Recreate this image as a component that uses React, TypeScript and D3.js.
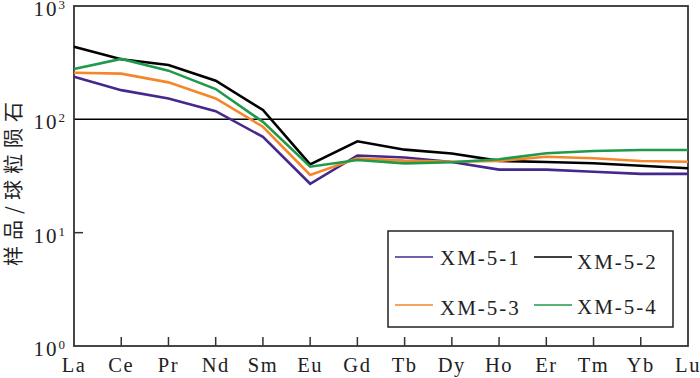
import { useEffect, useRef } from "react";
import * as d3 from "d3";

const elements = ["La", "Ce", "Pr", "Nd", "Sm", "Eu", "Gd", "Tb", "Dy", "Ho", "Er", "Tm", "Yb", "Lu"];
const xm51 = [238, 181, 153, 118, 70, 27, 48, 46, 42, 36, 36, 34.5, 33, 33];
const xm52 = [437, 339, 302, 219, 121, 40, 64, 54, 50, 43, 42, 41, 39, 37];
const xm53 = [258, 253, 212, 153, 86, 32.3, 45.3, 43.2, 42.3, 42.9, 46.8, 45.3, 42.9, 42.3];
const xm54 = [278, 341, 269, 185, 95, 38.2, 43.8, 40.9, 41.8, 44.4, 50.2, 52.6, 53.6, 53.6];
const seriesNames = ["XM-5-1", "XM-5-2", "XM-5-3", "XM-5-4"];
const seriesColors = ["#45288c", "#000000", "#f5862a", "#1f9a4a"];
const yTicks = [1, 10, 100, 1000];

const App = () => {
  const ref = useRef<SVGSVGElement>(null);

  useEffect(() => {
    const width = 700,
      height = 378,
      margin = { top: 6, right: 12, bottom: 32, left: 74 };
    const w = width - margin.left - margin.right;
    const h = height - margin.top - margin.bottom;

    const svg = d3.select(ref.current);
    svg.selectAll("*").remove();

    const g = svg.append("g").attr("transform", `translate(${margin.left},${margin.top})`);

    const x = d3.scalePoint<string>().domain(elements).range([0, w]);
    const y = d3.scaleLog().domain([1, 1000]).range([h, 0]);

    // 100 reference line
    g.append("line")
      .attr("x1", 0)
      .attr("x2", w)
      .attr("y1", y(100))
      .attr("y2", y(100))
      .attr("stroke", "#000")
      .attr("stroke-width", 1.5);

    // frame
    g.append("rect")
      .attr("x", 0)
      .attr("y", 0)
      .attr("width", w)
      .attr("height", h)
      .attr("fill", "none")
      .attr("stroke", "#333")
      .attr("stroke-width", 1.8);

    // x ticks (inward)
    g.selectAll(".xt")
      .data(elements.slice(1, -1))
      .enter()
      .append("line")
      .attr("x1", (d) => x(d)!)
      .attr("x2", (d) => x(d)!)
      .attr("y1", h)
      .attr("y2", h - 9)
      .attr("stroke", "#333")
      .attr("stroke-width", 1.5);

    g.selectAll(".xl")
      .data(elements)
      .enter()
      .append("text")
      .attr("x", (d) => x(d)!)
      .attr("y", h + 26)
      .attr("text-anchor", "middle")
      .attr("font-family", "Liberation Serif, serif")
      .attr("font-size", 20.5)
      .attr("letter-spacing", 1.5)
      .attr("fill", "#222")
      .text((d) => d);

    // y ticks
    g.append("line")
      .attr("x1", 0)
      .attr("x2", 9)
      .attr("y1", y(10))
      .attr("y2", y(10))
      .attr("stroke", "#333")
      .attr("stroke-width", 1.5);

    const yl = g
      .selectAll(".yl")
      .data(yTicks)
      .enter()
      .append("text")
      .attr("x", -9)
      .attr("y", (d) => y(d) + 10)
      .attr("text-anchor", "end")
      .attr("font-family", "Liberation Serif, serif")
      .attr("font-size", 21)
      .attr("fill", "#222");
    yl.append("tspan").attr("letter-spacing", 2).text("10");
    yl.append("tspan")
      .attr("font-size", 13)
      .attr("dy", -7)
      .text((d) => String(Math.round(Math.log10(d))));

    // y title
    svg
      .append("text")
      .attr("transform", "translate(21,184) rotate(-90)")
      .attr("text-anchor", "middle")
      .attr("font-family", "Noto Sans CJK SC, sans-serif")
      .attr("font-size", 20)
      .attr("fill", "#222")
      .attr("textLength", 164)
      .attr("lengthAdjust", "spacing")
      .text("样品/球粒陨石");

    // series lines
    const allSeries = [xm51, xm52, xm53, xm54];
    const line = d3
      .line<number>()
      .x((_, i) => x(elements[i])!)
      .y((d) => y(d));

    allSeries.forEach((s, i) => {
      g.append("path")
        .datum(s)
        .attr("fill", "none")
        .attr("stroke", seriesColors[i])
        .attr("stroke-width", 2.6)
        .attr("stroke-linejoin", "miter")
        .attr("d", line);
    });

    // legend
    const lg = svg.append("g");
    lg.append("rect")
      .attr("x", 388)
      .attr("y", 231)
      .attr("width", 285)
      .attr("height", 96)
      .attr("fill", "#fff")
      .attr("stroke", "#222")
      .attr("stroke-width", 1.5);

    const legendPos = [
      { lx: 395, tx: 440, ly: 257, ty: 265 },
      { lx: 534, tx: 577, ly: 257, ty: 269 },
      { lx: 395, tx: 440, ly: 305, ty: 315 },
      { lx: 534, tx: 577, ly: 305, ty: 314 },
    ];
    seriesNames.forEach((name, i) => {
      const p = legendPos[i];
      lg.append("line")
        .attr("x1", p.lx)
        .attr("x2", p.lx + 38)
        .attr("y1", p.ly)
        .attr("y2", p.ly)
        .attr("stroke", seriesColors[i])
        .attr("stroke-width", 1.6);
      lg.append("text")
        .attr("x", p.tx)
        .attr("y", p.ty)
        .attr("font-family", "Liberation Serif, serif")
        .attr("font-size", 21)
        .attr("letter-spacing", 2)
        .attr("fill", "#222")
        .text(name);
    });
  }, []);

  return (
    <svg
      ref={ref}
      width={700}
      height={378}
      style={{ position: "absolute", left: 0, top: 0, background: "#fff" }}
    />
  );
};

export default App;
